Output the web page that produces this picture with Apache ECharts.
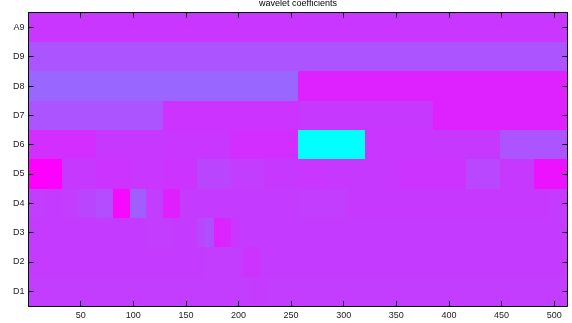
<!DOCTYPE html>
<html>
<head>
<meta charset="utf-8">
<script src="https://cdn.jsdelivr.net/npm/echarts@6/dist/echarts.min.js"></script>
<style>
  html, body { margin: 0; padding: 0; background: #fff; }
  #chart { width: 572px; height: 323px; }
</style>
</head>
<body>
<div id="chart"></div>
<script>
// levels, bottom to top
const levels = ['D1', 'D2', 'D3', 'D4', 'D5', 'D6', 'D7', 'D8', 'D9', 'A9']
const xTicks = [50, 100, 150, 200, 250, 300, 350, 400, 450, 500]

// colour value per cell (0 = cyan, 100 = magenta), left to right
const a9 = [79]
const d9 = [67]
const d8 = [60, 87]
const d7 = [67, 80, 78, 87]
const d6 = [82, 78, 79, 82, 0, 79, 78, 67]
const d5 = [100, 78, 80, 79, 80, 73, 76, 78, 79, 78, 78, 80, 80, 72, 78, 93]
const d4 = [76, 77, 76, 73, 70, 96, 63, 76, 88, 77, 77, 77, 77, 77, 77, 77,
  76, 76, 76, 78, 78, 78, 78, 78, 78, 78, 78, 78, 78, 78, 78, 77]
const d3 = [77, 77, 77, 77, 77, 77, 77, 77, 77, 77, 77, 77, 77, 77, 76, 76,
  76, 77, 77, 77, 72, 69, 87, 85, 79, 77, 77, 77, 77, 77, 77, 77,
  77, 77, 77, 77, 77, 77, 77, 77, 77, 77, 77, 77, 77, 77, 77, 77,
  77, 77, 77, 77, 77, 77, 77, 77, 77, 77, 77, 77, 77, 77, 77, 77]
const d2 = [77, 77, 77, 77, 77, 77, 77, 77, 77, 77, 77, 77, 77, 77, 77, 77,
  77, 77, 77, 77, 77, 77, 77, 77, 77, 77, 77, 77, 77, 77, 77, 77,
  77, 77, 77, 77, 77, 77, 77, 77, 77, 77, 76, 76, 76, 76, 76, 76,
  76, 76, 77, 80, 80, 80, 80, 77, 77, 77, 77, 77, 77, 77, 77, 77,
  77, 77, 77, 77, 77, 77, 77, 77, 77, 77, 77, 77, 77, 77, 77, 77,
  77, 77, 77, 77, 77, 77, 77, 77, 77, 77, 77, 77, 77, 77, 77, 77,
  77, 77, 77, 77, 77, 77, 77, 77, 77, 77, 77, 77, 77, 77, 77, 77,
  77, 77, 77, 77, 77, 77, 77, 77, 77, 77, 77, 77, 77, 77, 77, 77]
const d1 = [76, 76, 76, 76, 76, 76, 76, 76, 76, 76, 76, 76, 76, 76, 76, 76,
  76, 76, 76, 76, 76, 76, 76, 76, 76, 76, 76, 76, 76, 76, 76, 76,
  76, 76, 76, 76, 76, 76, 76, 76, 76, 76, 76, 76, 76, 76, 76, 76,
  76, 76, 76, 76, 76, 76, 76, 76, 76, 76, 76, 76, 76, 76, 76, 76,
  76, 76, 76, 76, 76, 76, 76, 76, 76, 76, 76, 76, 76, 76, 76, 76,
  76, 76, 76, 76, 76, 76, 76, 76, 76, 76, 76, 76, 76, 76, 76, 76,
  76, 76, 76, 76, 76, 76, 76, 76, 76, 77, 77, 77, 77, 77, 77, 77,
  77, 76, 76, 76, 76, 76, 76, 76, 76, 76, 76, 76, 76, 76, 76, 76,
  76, 76, 76, 76, 76, 76, 76, 76, 76, 76, 76, 76, 76, 76, 76, 76,
  76, 76, 76, 76, 76, 76, 76, 76, 76, 76, 76, 76, 76, 76, 76, 76,
  76, 76, 76, 76, 76, 76, 76, 76, 76, 76, 76, 76, 76, 76, 76, 76,
  76, 76, 76, 76, 76, 76, 76, 76, 76, 76, 76, 76, 76, 76, 76, 76,
  76, 76, 76, 76, 76, 76, 76, 76, 76, 76, 76, 76, 76, 76, 76, 76,
  76, 76, 76, 76, 76, 76, 76, 76, 76, 76, 76, 76, 76, 76, 76, 76,
  76, 76, 76, 76, 76, 76, 76, 76, 76, 76, 76, 76, 76, 76, 76, 76,
  76, 76, 76, 76, 76, 76, 76, 76, 76, 76, 76, 76, 76, 76, 76, 76]

const rows = [d1, d2, d3, d4, d5, d6, d7, d8, d9, a9]
const signalLength = 512

// [xStart, xEnd, levelIndex, value]
const cells = []
rows.forEach((row, level) => {
  const w = signalLength / row.length
  row.forEach((v, i) => {
    cells.push([0.5 + i * w, 0.5 + (i + 1) * w, level, v])
  })
})

const font = "'Liberation Sans', Arial, sans-serif"
const black = '#000'

const xCommon = {
  type: 'value',
  min: 0.5,
  max: signalLength + 0.5,
  z: 10,
  splitLine: { show: false },
  axisLine: { show: true, onZero: false, lineStyle: { color: black, width: 1 } },
  axisTick: { show: true, inside: true, length: 5, customValues: xTicks, lineStyle: { color: black } },
}
const yCommon = {
  type: 'category',
  data: levels,
  z: 10,
  splitLine: { show: false },
  axisLine: { show: true, onZero: false, lineStyle: { color: black, width: 1 } },
  axisTick: { show: true, inside: true, length: 5, alignWithLabel: true, lineStyle: { color: black } },
}

const chart = echarts.init(document.getElementById('chart'), null, { renderer: 'canvas' })
chart.setOption({
  animation: false,
  title: {
    text: 'wavelet coefficients',
    left: 298,
    top: -1,
    padding: 0,
    textAlign: 'center',
    textStyle: { fontFamily: font, fontSize: 9, fontWeight: 'normal', color: black }
  },
  grid: { left: 28.6, right: 4.7, top: 12.7, bottom: 17 },
  visualMap: {
    type: 'continuous',
    show: false,
    min: 0,
    max: 100,
    dimension: 3,
    seriesIndex: 0,
    inRange: { color: ['#00ffff', '#ff00ff'] }
  },
  xAxis: [
    { ...xCommon, position: 'bottom',
      axisLabel: { customValues: xTicks, fontFamily: font, fontSize: 9, color: '#222', margin: 5 } },
    { ...xCommon, position: 'top', axisLabel: { show: false } }
  ],
  yAxis: [
    { ...yCommon, position: 'left',
      axisLabel: { fontFamily: font, fontSize: 9, color: '#222', margin: 4 } },
    { ...yCommon, position: 'right', axisLabel: { show: false } }
  ],
  series: [{
    type: 'custom',
    xAxisIndex: 0,
    yAxisIndex: 0,
    encode: { x: [0, 1], y: 2 },
    data: cells,
    renderItem(params, api) {
      const p0 = api.coord([api.value(0), api.value(2)])
      const p1 = api.coord([api.value(1), api.value(2)])
      const h = api.size([0, 1])[1]
      // snap to whole pixels so neighbouring cells leave no seams
      const x0 = Math.round(p0[0])
      const x1 = Math.round(p1[0])
      const y0 = Math.round(p0[1] - h / 2)
      const y1 = Math.round(p0[1] + h / 2)
      return {
        type: 'rect',
        shape: { x: x0, y: y0, width: x1 - x0, height: y1 - y0 },
        style: { fill: api.visual('color'), stroke: null, lineWidth: 0 }
      }
    }
  }]
})
</script>
</body>
</html>
